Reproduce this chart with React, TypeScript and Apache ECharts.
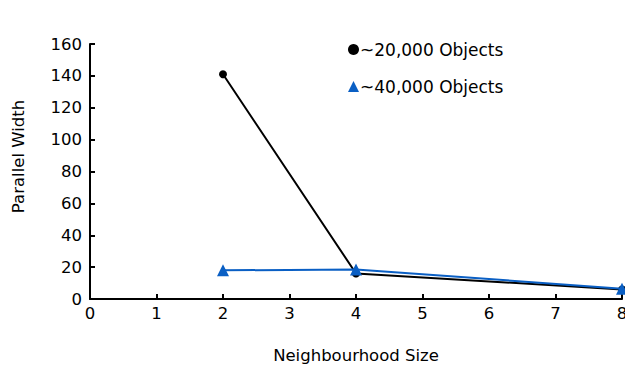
import React, { useEffect, useRef } from "react";
import * as echarts from "echarts";

// Neighbourhood size on x, parallel width on y
const objects20kX = [2, 4, 8];
const objects20kY = [141, 16, 6];
const objects40kX = [2, 4, 8];
const objects40kY = [18, 18.5, 6.5];
const seriesNames = ["~20,000 Objects", "~40,000 Objects"];

const FONT = "DejaVu Sans";

export default function App() {
  const ref = useRef<HTMLDivElement>(null);

  useEffect(() => {
    if (!ref.current) return;
    const chart = echarts.init(ref.current, undefined, { renderer: "svg" });
    const pair = (xs: number[], ys: number[]) => xs.map((x, i) => [x, ys[i]]);
    chart.setOption({
      animation: false,
      backgroundColor: "#ffffff",
      textStyle: { fontFamily: FONT },
      grid: {
        left: 90,
        right: 3,
        top: 44,
        bottom: 72,
        containLabel: false,
        outerBoundsMode: "none",
      },
      legend: {
        orient: "vertical",
        left: 343,
        top: 36,
        itemGap: 20,
        itemWidth: 11,
        itemHeight: 11,
        textStyle: { fontFamily: FONT, fontSize: 17, color: "#000", padding: [0, 0, 0, -4] },
        data: [
          { name: seriesNames[0], icon: "circle", itemStyle: { color: "#000" } },
          { name: seriesNames[1], icon: "triangle", itemStyle: { color: "#0a5fc4" } },
        ],
      },
      xAxis: {
        type: "value",
        min: 0,
        max: 8,
        interval: 1,
        name: "Neighbourhood Size",
        nameLocation: "middle",
        nameGap: 48,
        nameTextStyle: { fontFamily: FONT, fontSize: 16.5, color: "#000" },
        axisLine: { show: true, lineStyle: { color: "#000", width: 2 } },
        axisTick: { show: true, inside: true, length: 5, lineStyle: { color: "#000", width: 2 } },
        axisLabel: { fontFamily: FONT, fontSize: 16.5, color: "#000", margin: 6 },
        splitLine: { show: false },
      },
      yAxis: {
        type: "value",
        min: 0,
        max: 160,
        interval: 20,
        name: "Parallel Width",
        nameLocation: "middle",
        nameGap: 63,
        nameTextStyle: {
          fontFamily: FONT,
          fontSize: 16.5,
          color: "#000",
          padding: [0, 0, 0, 30],
        },
        axisLine: { show: true, lineStyle: { color: "#000", width: 2 } },
        axisTick: { show: true, inside: true, length: 5, lineStyle: { color: "#000", width: 2 } },
        axisLabel: { fontFamily: FONT, fontSize: 16.5, color: "#000", margin: 8 },
        splitLine: { show: false },
      },
      series: [
        {
          name: seriesNames[0],
          type: "line",
          data: pair(objects20kX, objects20kY),
          symbol: "circle",
          symbolSize: 8,
          itemStyle: { color: "#000" },
          lineStyle: { color: "#000", width: 2 },
          z: 2,
        },
        {
          name: seriesNames[1],
          type: "line",
          data: pair(objects40kX, objects40kY),
          symbol: "triangle",
          symbolSize: 12,
          itemStyle: { color: "#0a5fc4" },
          lineStyle: { color: "#0a5fc4", width: 2 },
          z: 3,
        },
      ],
    });
    return () => chart.dispose();
  }, []);

  return (
    <div
      ref={ref}
      style={{ position: "absolute", left: 0, top: 0, width: 625, height: 371 }}
    />
  );
}
